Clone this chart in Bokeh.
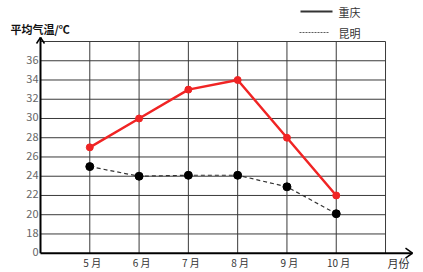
from bokeh.plotting import figure
from bokeh.models import Range1d
from bokeh.core.properties import value
from bokeh.embed import file_html
from bokeh.resources import INLINE

# ---- data ----
months = ["5 月", "6 月", "7 月", "8 月", "9 月", "10 月"]
chongqing = [27, 30, 33, 34, 28, 22]
kunming = [25, 24, 24.1, 24.1, 22.9, 20.1]
y_tick_values = [0, 18, 20, 22, 24, 26, 28, 30, 32, 34, 36]
y_tick_labels = ["0", "18", "20", "22", "24", "26", "28", "30", "32", "34", "36"]
series_names = ["重庆", "昆明"]
y_title = "平均气温/℃"
x_title = "月份"

W, H = 423, 272
# pixel geometry of the grid
X0, XW = 40.0, 49.29      # left axis pixel, pixels per column
Y0, YH = 252.7, 19.245    # bottom axis pixel, pixels per row


def ypos(v):
    # broken axis: 0 at bottom, then 18,20,...
    return 0 if v == 0 else (v - 16) / 2.0


def dx(px):
    return (px - X0) / XW


def dy(py):
    return (Y0 - py) / YH


p = figure(width=W, height=H, output_backend="svg", toolbar_location=None,
           x_range=Range1d(dx(0), dx(W)), y_range=Range1d(dy(H), dy(0)),
           min_border=0, min_border_left=0, min_border_right=0,
           min_border_top=0, min_border_bottom=0)
p.axis.visible = False
p.grid.visible = False
p.outline_line_color = None
p.background_fill_color = "white"

ncol = len(months) + 1
nrow = len(y_tick_values)
top = nrow  # one extra row above 36

# grid
p.segment(x0=list(range(1, ncol + 1)), y0=[0] * ncol, x1=list(range(1, ncol + 1)), y1=[top] * ncol,
          line_color="#3a3a3a", line_width=1)
p.segment(x0=[0] * nrow, y0=list(range(1, nrow + 1)), x1=[ncol] * nrow, y1=list(range(1, nrow + 1)),
          line_color="#3a3a3a", line_width=1)

# axes with arrows (drawn as segments)
ytip, xtip = dy(37), dx(412)
p.segment(x0=[0, 0], y0=[0, 0], x1=[0, xtip], y1=[ytip, 0], line_color="black", line_width=2)
p.segment(x0=[0, 0, xtip, xtip],
          y0=[ytip, ytip, 0, 0],
          x1=[dx(X0 - 4), dx(X0 + 4), dx(405), dx(405)],
          y1=[dy(43), dy(43), dy(Y0 - 5), dy(Y0 + 5)],
          line_color="black", line_width=1.5)

xs = list(range(1, len(months) + 1))
cq = [ypos(v) for v in chongqing]
km = [ypos(v) for v in kunming]

p.line(xs, km, line_color="#333333", line_width=1.2, line_dash="4 3")
p.scatter(xs, km, size=8, fill_color="black", line_color="black")
p.line(xs, cq, line_color="#f02424", line_width=2.5)
p.scatter(xs, cq, size=7, fill_color="#f02424", line_color="#f02424")

font = value("Noto Sans CJK SC")

# y tick labels
p.text(x=[dx(38)] * nrow, y=[ypos(v) for v in y_tick_values], text=y_tick_labels,
       text_font=font, text_font_size="11px", text_color="#666666",
       text_align="right", text_baseline="alphabetic", y_offset=-1)

# x tick labels
p.text(x=[i + 0.05 for i in xs], y=[dy(262)] * len(xs), text=months,
       text_font=font, text_font_size="10px", text_color="#333333",
       text_align="center", text_baseline="middle")
p.text(x=[dx(398)], y=[dy(262)], text=[x_title], text_font=font, text_font_size="11px",
       text_color="#333333", text_align="center", text_baseline="middle")

# y title
p.text(x=[dx(10)], y=[dy(28)], text=[y_title], text_font=font, text_font_size="11px",
       text_font_style="bold", text_color="#111111", text_align="left", text_baseline="middle")

# legend
p.line([dx(300), dx(332)], [dy(11), dy(11)], line_color="#333333", line_width=2)
p.line([dx(299), dx(329)], [dy(32), dy(32)], line_color="#333333", line_width=0.8, line_dash="2 1")
p.text(x=[dx(338), dx(338)], y=[dy(11), dy(32)], text=series_names, text_font=font,
       text_font_size="11px", text_color="#333333", text_align="left", text_baseline="middle")

open("out.html", "w").write(file_html(p, INLINE))
